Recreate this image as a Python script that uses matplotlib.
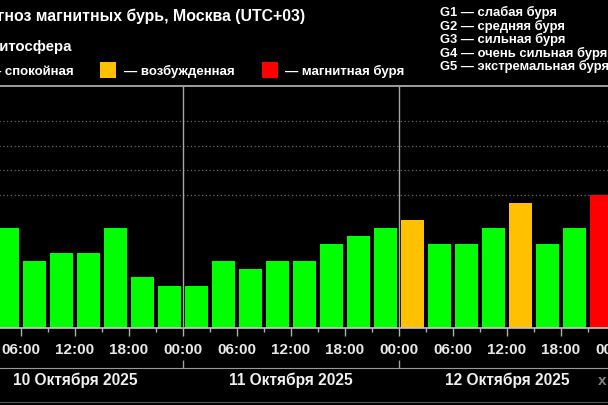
import matplotlib.pyplot as plt
from matplotlib.patches import Rectangle
import numpy as np

# Kp forecast, 3-hour intervals starting 10 Oct 03:00 (hours since 10 Oct 00:00)
start_hours = list(range(3, 72, 3))
kp_values = [3.67, 2.33, 2.67, 2.67, 3.67, 1.67, 1.33,
             1.33, 2.33, 2.00, 2.33, 2.33, 3.00, 3.33, 3.67,
             4.00, 3.00, 3.00, 3.67, 4.67, 3.00, 3.67, 5.00]
day_labels = ["10 Октября 2025", "11 Октября 2025", "12 Октября 2025"]
storm_levels = ["G1 — слабая буря", "G2 — средняя буря", "G3 — сильная буря",
                "G4 — очень сильная буря", "G5 — экстремальная буря"]

W, H = 608, 406
FONT = "Liberation Sans"
plt.rcParams['font.family'] = [FONT, 'DejaVu Sans']

def fx(x):
    return x / W

def fy(y):
    return 1 - y / H

def bar_color(v):
    if v >= 5:
        return '#ff0000'
    if v >= 4:
        return '#ffc000'
    return '#00ff00'

fig = plt.figure(figsize=(W / 100, H / 100), dpi=100, facecolor='black')

# main axes spans 10 Oct 00:00 .. 13 Oct 00:00, wider than the figure (cropped view)
x0, x1 = -33, 615
ax = fig.add_axes([fx(x0), fy(329), (x1 - x0) / W, (329 - 87) / H])
ax.set_facecolor('black')
ymin, ymax = -0.38, 9.41
ax.set_xlim(0, 72)
ax.set_ylim(ymin, ymax)

for lvl in [5, 6, 7, 8]:
    ax.axhline(lvl, color='#6a6a6a', lw=0.9, ls=(0, (1, 2)), zorder=0)
for d in [24, 48]:
    ax.axvline(d, color='#a8a8a8', lw=1.0, zorder=3)

centers = np.array(start_hours) + 1.5
heights = np.array(kp_values) - ymin
ax.bar(centers, heights, bottom=ymin, width=2.6,
       color=[bar_color(v) for v in kp_values], zorder=2)

for side in ['left', 'right']:
    ax.spines[side].set_visible(False)
ax.spines['top'].set_color('#b8b8b8')
ax.spines['bottom'].set_color('#c8c8c8')
ax.spines['top'].set_linewidth(1.2)
ax.spines['bottom'].set_linewidth(1.2)
ax.set_yticks([])

ax.set_xticks(range(0, 73, 6))
ax.set_xticklabels(["%02d:00" % (h % 24) for h in range(0, 73, 6)])
ax.set_xticks(range(3, 72, 6), minor=True)
ax.tick_params(axis='x', which='major', length=6, width=1, color='#b0b0b0',
               pad=4, labelsize=11, labelcolor='#e8e8e8')
ax.tick_params(axis='x', which='minor', length=2.6, width=1, color='#b0b0b0')
for lab in ax.get_xticklabels():
    lab.set_fontweight('bold')

# day band below the time labels
ax2 = fig.add_axes([fx(x0), fy(403), (x1 - x0) / W, (403 - 369) / H])
ax2.set_facecolor('black')
ax2.set_xlim(0, 72)
ax2.set_ylim(0, 1)
ax2.set_yticks([])
for side in ['left', 'right']:
    ax2.spines[side].set_visible(False)
ax2.spines['top'].set_color('#9a9a9a')
ax2.spines['bottom'].set_color('#555555')
ax2.xaxis.set_ticks_position('top')
ax2.set_xticks([24, 48])
ax2.set_xticklabels([])
ax2.tick_params(axis='x', length=5.5, width=1, color='#a0a0a0')
for i, lab in enumerate(day_labels):
    ax2.text(12 + 24 * i, 0.66, lab, ha='center', va='center', color='#f0f0f0',
             fontsize=11.2, fontweight='bold')
ax2.text((602 - x0) / 9, 0.66, "х", ha='center',
         va='center', color='#808080', fontsize=11, fontweight='bold')

# header texts
fig.text(fx(305), fy(21), "Прогноз магнитных бурь, Москва (UTC+03)", ha='right',
         va='baseline', color='white', fontsize=11.4, fontweight='bold')
fig.text(fx(71), fy(51), "Магнитосфера", ha='right', va='baseline',
         color='white', fontsize=10.8, fontweight='bold')
fig.text(fx(74), fy(75), "— спокойная", ha='right', va='baseline',
         color='white', fontsize=9.5, fontweight='bold')
fig.add_artist(Rectangle((fx(100), fy(79)), 16 / W, 16 / H, transform=fig.transFigure,
                         facecolor='#ffc000', edgecolor='none'))
fig.text(fx(124), fy(75), "— возбужденная", ha='left', va='baseline',
         color='white', fontsize=9.5, fontweight='bold')
fig.add_artist(Rectangle((fx(262), fy(79)), 16 / W, 16 / H, transform=fig.transFigure,
                         facecolor='#ff0000', edgecolor='none'))
fig.text(fx(285), fy(75), "— магнитная буря", ha='left', va='baseline',
         color='white', fontsize=9.5, fontweight='bold')

for i, s in enumerate(storm_levels):
    fig.text(fx(440), fy(16 + 13.6 * i), s, ha='left', va='baseline',
             color='white', fontsize=9.4, fontweight='bold')

fig.savefig("out.png", dpi=100, facecolor='black')
